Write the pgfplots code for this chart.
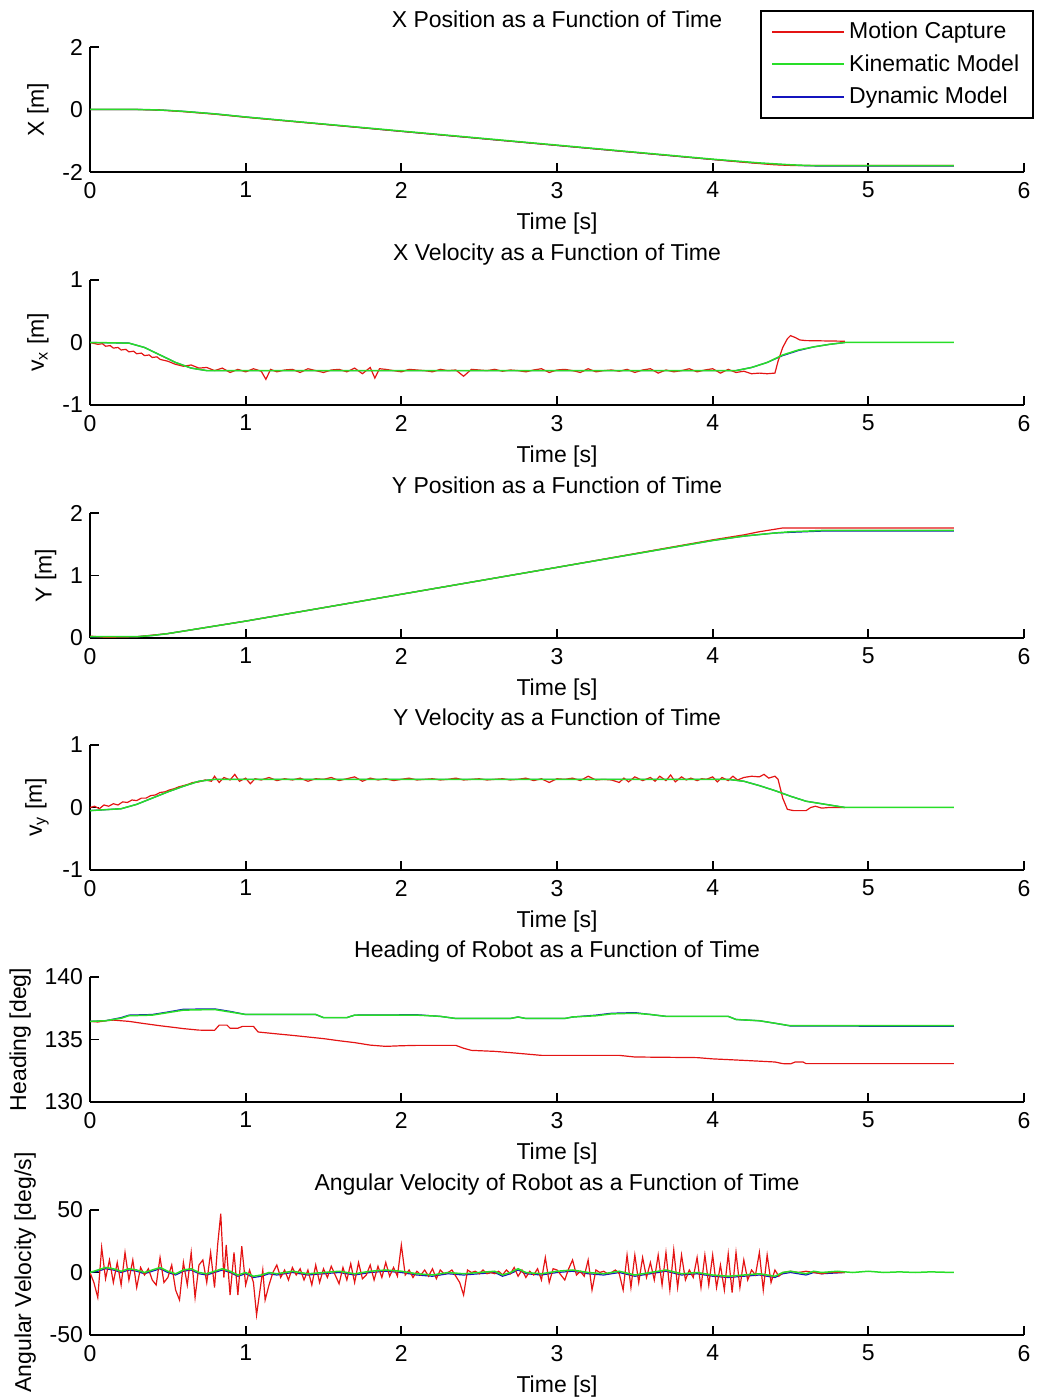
\documentclass[border=0pt]{standalone}
\usepackage{pgfplots}
\pgfplotsset{compat=1.18}
\usepackage{fontspec}
\setmainfont{Liberation Sans}
\definecolor{mred}{RGB}{228,20,20}
\definecolor{mgreen}{RGB}{40,222,40}
\definecolor{mblue}{RGB}{20,20,190}
\newcommand{\mfont}{\fontsize{11.5}{13}\selectfont}
\pgfplotsset{
 mat/.style={scale only axis, width=467pt, height=62.5pt, xmin=0, xmax=6,
   xtick={0,1,2,3,4,5,6}, xticklabels={0,1,2,3,4,5,6},
   axis x line*=bottom, axis y line*=left, axis line style={line width=0.9pt,-},
   tick align=inside, major tick length=4.7pt, tick style={line width=0.9pt, black},
   xlabel={Time [s]},
   every tick label/.append style={font=\mfont},
   xticklabel style={yshift=-1.5pt},
   xlabel style={yshift=-0.5pt},
   label style={font=\mfont},
   title style={font=\mfont, text depth=0pt},
 },
 mc/.style={mred, line width=0.6pt},
 km/.style={mgreen, line width=0.75pt},
 dm/.style={mblue, line width=0.6pt},
}
\begin{document}
\begin{tikzpicture}
\useasboundingbox (0,0) rectangle (518.5pt,700pt);
% ---------- 1: X position
\begin{axis}[mat, at={(45pt,614pt)}, anchor=south west, ymin=-2, ymax=2,
  ytick={-2,0,2}, yticklabels={-2,0,2}, ylabel={X [m]},
  title={X Position as a Function of Time},
  legend style={at={(1.0107,1.296)}, anchor=north east, draw=black, line width=0.8pt,
    font=\mfont, inner xsep=5pt, inner ysep=3.5pt, row sep=2.5pt},
  legend cell align=left,
  legend image code/.code={\draw[#1, line width=1pt] (0pt,0pt) -- (36pt,0pt);}]
\addlegendimage{mc}\addlegendentry{Motion Capture}
\addlegendimage{km}\addlegendentry{Kinematic Model}
\addlegendimage{dm}\addlegendentry{Dynamic Model}
\addplot[dm, forget plot] coordinates {(0,0) (0.3,0) (0.4,-0.01) (0.5,-0.03) (0.6,-0.06) (0.7,-0.1) (0.8,-0.14) (0.9,-0.19) (1.0,-0.24) (2.0,-0.70) (3.0,-1.15) (4.0,-1.60) (4.1,-1.64) (4.2,-1.68) (4.3,-1.72) (4.4,-1.75) (4.5,-1.78) (4.6,-1.80) (4.7,-1.81) (5.55,-1.81)};
\addplot[mc, forget plot] coordinates {(0,0) (0.3,0) (0.45,-0.02) (0.6,-0.07) (0.8,-0.15) (1.0,-0.25) (2.0,-0.70) (3.0,-1.15) (4.0,-1.60) (4.2,-1.69) (4.4,-1.77) (4.5,-1.79) (5.55,-1.79)};
\addplot[km, forget plot] coordinates {(0,0) (0.3,0) (0.4,-0.01) (0.5,-0.03) (0.6,-0.06) (0.7,-0.1) (0.8,-0.14) (0.9,-0.19) (1.0,-0.24) (2.0,-0.69) (3.0,-1.14) (4.0,-1.59) (4.1,-1.63) (4.2,-1.67) (4.3,-1.71) (4.4,-1.74) (4.5,-1.77) (4.6,-1.79) (4.7,-1.80) (5.55,-1.80)};
\end{axis}
% ---------- 2: X velocity
\begin{axis}[mat, at={(45pt,497.5pt)}, anchor=south west, ymin=-1, ymax=1,
  ytick={-1,0,1}, yticklabels={-1,0,1}, ylabel={v$_\mathrm{x}$ [m]},
  title={X Velocity as a Function of Time}]
\addplot[dm] coordinates {(0,0) (0.25,-0.01) (0.35,-0.08) (0.45,-0.2) (0.55,-0.32) (0.65,-0.41) (0.75,-0.45) (4.15,-0.45) (4.25,-0.4) (4.35,-0.32) (4.45,-0.21) (4.55,-0.13) (4.65,-0.07) (4.75,-0.03) (4.85,0)};
\addplot[mc] coordinates {(0,0) (0.05,-0.03) (0.08,-0.02) (0.1,-0.06) (0.13,-0.05) (0.15,-0.09) (0.18,-0.08) (0.2,-0.12) (0.23,-0.11) (0.25,-0.15) (0.28,-0.14) (0.3,-0.18) (0.33,-0.17) (0.35,-0.21) (0.38,-0.2) (0.4,-0.24) (0.43,-0.23) (0.45,-0.27) (0.5,-0.3) (0.55,-0.35) (0.6,-0.38) (0.65,-0.36) (0.7,-0.41) (0.75,-0.4) (0.8,-0.45) (0.85,-0.41) (0.9,-0.48) (0.95,-0.43) (1.0,-0.47) (1.05,-0.42) (1.1,-0.46) (1.13,-0.59) (1.16,-0.43) (1.2,-0.47) (1.25,-0.44) (1.3,-0.43) (1.35,-0.48) (1.4,-0.42) (1.45,-0.45) (1.5,-0.48) (1.55,-0.44) (1.6,-0.43) (1.65,-0.47) (1.7,-0.41) (1.75,-0.5) (1.8,-0.4) (1.83,-0.57) (1.86,-0.42) (1.9,-0.43) (1.95,-0.45) (2.0,-0.47) (2.05,-0.43) (2.1,-0.44) (2.15,-0.45) (2.2,-0.47) (2.25,-0.43) (2.3,-0.45) (2.35,-0.44) (2.4,-0.54) (2.45,-0.43) (2.5,-0.44) (2.55,-0.45) (2.6,-0.43) (2.65,-0.46) (2.7,-0.44) (2.75,-0.45) (2.8,-0.47) (2.85,-0.44) (2.9,-0.42) (2.95,-0.48) (3.0,-0.44) (3.05,-0.43) (3.1,-0.45) (3.15,-0.48) (3.2,-0.42) (3.25,-0.47) (3.3,-0.45) (3.35,-0.44) (3.4,-0.46) (3.45,-0.43) (3.5,-0.48) (3.55,-0.44) (3.6,-0.42) (3.65,-0.49) (3.7,-0.44) (3.75,-0.47) (3.8,-0.45) (3.85,-0.42) (3.9,-0.47) (3.95,-0.44) (4.0,-0.42) (4.05,-0.49) (4.1,-0.43) (4.15,-0.48) (4.2,-0.46) (4.25,-0.5) (4.3,-0.49) (4.35,-0.5) (4.4,-0.49) (4.42,-0.3) (4.45,-0.08) (4.48,0.06) (4.5,0.11) (4.53,0.08) (4.56,0.04) (4.6,0.03) (4.85,0.02)};
\addplot[km] coordinates {(0,0) (0.25,-0.01) (0.35,-0.08) (0.45,-0.2) (0.55,-0.32) (0.65,-0.41) (0.75,-0.45) (4.15,-0.45) (4.25,-0.4) (4.35,-0.32) (4.45,-0.2) (4.55,-0.12) (4.65,-0.07) (4.75,-0.03) (4.85,0) (5.55,0)};
\end{axis}
% ---------- 3: Y position
\begin{axis}[mat, at={(45pt,381pt)}, anchor=south west, ymin=0, ymax=2,
  ytick={0,1,2}, yticklabels={0,1,2}, ylabel={Y [m]},
  title={Y Position as a Function of Time}]
\addplot[dm] coordinates {(0,0.02) (0.3,0.02) (0.4,0.04) (0.5,0.07) (0.6,0.11) (0.7,0.15) (0.8,0.19) (0.9,0.23) (1.0,0.27) (2.0,0.70) (3.0,1.13) (4.0,1.56) (4.2,1.63) (4.4,1.68) (4.5,1.69) (4.6,1.70) (4.7,1.71) (5.55,1.71)};
\addplot[mc] coordinates {(0,0.03) (0.1,0.01) (0.3,0.02) (0.5,0.07) (0.8,0.19) (1.0,0.27) (2.0,0.70) (3.0,1.13) (4.0,1.57) (4.2,1.65) (4.3,1.70) (4.4,1.74) (4.45,1.76) (5.55,1.76)};
\addplot[km] coordinates {(0,0.02) (0.3,0.02) (0.4,0.04) (0.5,0.07) (0.6,0.11) (0.7,0.15) (0.8,0.19) (0.9,0.23) (1.0,0.27) (2.0,0.70) (3.0,1.13) (4.0,1.56) (4.2,1.63) (4.4,1.68) (4.5,1.70) (4.6,1.71) (4.7,1.72) (5.55,1.72)};
\end{axis}
% ---------- 4: Y velocity
\begin{axis}[mat, at={(45pt,265pt)}, anchor=south west, ymin=-1, ymax=1,
  ytick={-1,0,1}, yticklabels={-1,0,1}, ylabel={v$_\mathrm{y}$ [m]},
  title={Y Velocity as a Function of Time}]
\addplot[dm] coordinates {(0,-0.05) (0.2,-0.02) (0.3,0.05) (0.4,0.15) (0.5,0.25) (0.6,0.34) (0.7,0.42) (0.8,0.45) (4.1,0.45) (4.2,0.42) (4.3,0.35) (4.4,0.27) (4.5,0.18) (4.6,0.1) (4.7,0.06) (4.8,0.02) (4.85,0)};
\addplot[mc] coordinates {(0,0) (0.03,0.02) (0.06,-0.02) (0.09,0.04) (0.12,0.02) (0.15,0.06) (0.18,0.04) (0.21,0.09) (0.24,0.08) (0.27,0.12) (0.3,0.11) (0.33,0.15) (0.36,0.15) (0.39,0.19) (0.42,0.2) (0.45,0.24) (0.48,0.25) (0.51,0.28) (0.54,0.3) (0.57,0.33) (0.6,0.35) (0.63,0.37) (0.66,0.4) (0.7,0.41) (0.74,0.44) (0.78,0.42) (0.8,0.5) (0.83,0.4) (0.86,0.48) (0.9,0.44) (0.93,0.53) (0.96,0.42) (1.0,0.47) (1.03,0.38) (1.06,0.46) (1.1,0.44) (1.15,0.48) (1.2,0.43) (1.25,0.46) (1.3,0.44) (1.35,0.47) (1.4,0.42) (1.45,0.46) (1.5,0.45) (1.55,0.48) (1.6,0.43) (1.65,0.46) (1.7,0.49) (1.75,0.42) (1.8,0.47) (1.85,0.44) (1.9,0.46) (1.95,0.43) (2.0,0.45) (2.05,0.47) (2.1,0.44) (2.15,0.45) (2.2,0.46) (2.25,0.44) (2.3,0.45) (2.35,0.47) (2.4,0.44) (2.45,0.45) (2.5,0.46) (2.55,0.44) (2.6,0.45) (2.65,0.46) (2.7,0.44) (2.75,0.45) (2.8,0.47) (2.85,0.43) (2.9,0.46) (2.95,0.40) (3.0,0.46) (3.05,0.45) (3.1,0.47) (3.15,0.43) (3.2,0.50) (3.25,0.44) (3.3,0.45) (3.35,0.44) (3.4,0.40) (3.43,0.47) (3.46,0.41) (3.5,0.49) (3.55,0.43) (3.6,0.48) (3.63,0.42) (3.66,0.50) (3.7,0.43) (3.73,0.52) (3.76,0.41) (3.8,0.49) (3.83,0.44) (3.86,0.47) (3.9,0.43) (3.93,0.46) (3.96,0.45) (4.0,0.49) (4.03,0.41) (4.06,0.48) (4.1,0.43) (4.13,0.50) (4.16,0.44) (4.2,0.48) (4.25,0.50) (4.3,0.49) (4.33,0.53) (4.36,0.47) (4.4,0.50) (4.42,0.45) (4.45,0.15) (4.48,-0.03) (4.52,-0.05) (4.6,-0.05) (4.63,0.0) (4.66,0.02) (4.7,-0.01) (4.75,0) (4.85,0)};
\addplot[km] coordinates {(0,-0.05) (0.2,-0.02) (0.3,0.05) (0.4,0.15) (0.5,0.25) (0.6,0.34) (0.7,0.42) (0.8,0.45) (4.1,0.45) (4.2,0.42) (4.3,0.35) (4.4,0.27) (4.5,0.18) (4.6,0.1) (4.7,0.06) (4.8,0.02) (4.85,0) (5.55,0)};
\end{axis}
% ---------- 5: Heading
\begin{axis}[mat, at={(45pt,149pt)}, anchor=south west, ymin=130, ymax=140,
  ytick={130,135,140}, yticklabels={130,135,140}, ylabel={Heading [deg]},
  title={Heading of Robot as a Function of Time}]
\addplot[dm] coordinates {(0,136.45) (0.1,136.5) (0.2,136.75) (0.25,136.95) (0.4,137.0) (0.5,137.2) (0.6,137.42) (0.8,137.45) (0.9,137.25) (1.0,137.0) (1.45,137.0) (1.5,136.75) (1.65,136.75) (1.7,136.95) (2.1,136.98) (2.25,136.85) (2.35,136.68) (2.7,136.68) (2.75,136.8) (2.8,136.68) (3.05,136.68) (3.1,136.8) (3.25,136.95) (3.35,137.1) (3.5,137.15) (3.6,137.0) (3.7,136.85) (4.1,136.85) (4.15,136.6) (4.3,136.5) (4.4,136.3) (4.5,136.08) (5.55,136.05)};
\addplot[mc] coordinates {(0,136.45) (0.05,136.4) (0.1,136.5) (0.15,136.55) (0.25,136.45) (0.35,136.27) (0.45,136.1) (0.55,135.95) (0.6,135.87) (0.7,135.75) (0.8,135.73) (0.83,136.15) (0.88,136.15) (0.9,135.9) (0.95,135.9) (0.98,136.05) (1.05,136.05) (1.08,135.6) (1.2,135.45) (1.3,135.33) (1.5,135.07) (1.6,134.9) (1.7,134.75) (1.8,134.55) (1.9,134.45) (2.0,134.5) (2.1,134.53) (2.35,134.53) (2.4,134.3) (2.45,134.13) (2.6,134.05) (2.7,133.95) (2.9,133.73) (3.0,133.73) (3.4,133.73) (3.5,133.6) (3.9,133.55) (4.0,133.45) (4.2,133.33) (4.4,133.2) (4.45,133.07) (4.5,133.05) (4.53,133.2) (4.58,133.2) (4.6,133.07) (5.55,133.07)};
\addplot[km] coordinates {(0,136.45) (0.1,136.5) (0.2,136.7) (0.25,136.9) (0.4,136.95) (0.5,137.15) (0.6,137.35) (0.8,137.4) (0.9,137.2) (1.0,137.0) (1.45,137.0) (1.5,136.75) (1.65,136.75) (1.7,136.95) (2.1,136.95) (2.25,136.85) (2.35,136.68) (2.7,136.68) (2.75,136.8) (2.8,136.68) (3.05,136.68) (3.1,136.8) (3.25,136.9) (3.35,137.05) (3.5,137.1) (3.6,137.0) (3.7,136.85) (4.1,136.85) (4.15,136.6) (4.3,136.5) (4.4,136.3) (4.5,136.1) (5.55,136.1)};
\end{axis}
% ---------- 6: Angular velocity
\begin{axis}[mat, at={(45pt,32.5pt)}, anchor=south west, ymin=-50, ymax=50,
  ytick={-50,0,50}, yticklabels={-50,0,50}, ylabel={Angular Velocity [deg/s]},
  title={Angular Velocity of Robot as a Function of Time}]
\addplot[dm] coordinates {(0,0) (0.05,1) (0.1,3) (0.15,2) (0.2,0) (0.25,2) (0.3,1) (0.35,-1) (0.4,1) (0.45,3) (0.5,0) (0.55,-2) (0.6,1) (0.65,2) (0.7,-1) (0.75,-2) (0.8,0) (0.85,2) (0.9,0) (0.95,-3) (1.0,-1) (1.05,-4) (1.1,-3) (1.15,-1) (1.2,-2) (1.3,0) (1.4,-2) (1.5,-1) (1.6,0) (1.7,-2) (1.8,0) (1.9,1) (2.0,0) (2.1,-2) (2.2,-3) (2.3,-1) (2.4,-2) (2.5,-1) (2.6,0) (2.65,-3) (2.7,-1) (2.75,2) (2.8,-1) (2.9,-2) (3.0,0) (3.1,1) (3.2,-1) (3.3,-2) (3.4,0) (3.5,-3) (3.6,-1) (3.7,1) (3.8,-2) (3.9,-1) (4.0,-3) (4.1,-4) (4.2,-3) (4.3,-2) (4.4,-4) (4.45,-1) (4.5,0) (4.55,-1) (4.6,-2) (4.65,0) (4.7,-1) (4.85,0)};
\addplot[mc] coordinates {(0.000,0) (0.025,-8) (0.050,-20) (0.075,20) (0.100,-5) (0.125,10) (0.150,-8) (0.175,8) (0.200,-10) (0.225,16) (0.250,-6) (0.275,10) (0.300,-12) (0.325,4) (0.350,-2) (0.375,3) (0.400,-6) (0.425,-10) (0.450,12) (0.475,-8) (0.500,-4) (0.525,6) (0.550,-14) (0.575,-22) (0.600,8) (0.625,-10) (0.650,16) (0.675,-20) (0.700,6) (0.725,10) (0.750,-8) (0.775,16) (0.800,-12) (0.820,22) (0.840,47) (0.860,-4) (0.875,22) (0.900,-18) (0.925,16) (0.950,-18) (0.975,21) (1.000,-10) (1.025,2) (1.050,-8) (1.070,-34) (1.090,-16) (1.110,2) (1.125,-22) (1.150,-10) (1.175,0) (1.200,6) (1.225,-4) (1.250,2) (1.275,-6) (1.300,4) (1.325,-2) (1.350,3) (1.375,-6) (1.400,2) (1.425,-10) (1.450,6) (1.475,-8) (1.500,3) (1.525,-4) (1.550,5) (1.575,-2) (1.600,-9) (1.625,4) (1.650,-6) (1.675,7) (1.700,-8) (1.725,8) (1.750,-5) (1.775,-2) (1.800,6) (1.825,-6) (1.850,5) (1.875,-4) (1.900,8) (1.925,-3) (1.950,4) (1.975,-3) (2.000,22) (2.025,-2) (2.050,2) (2.075,-4) (2.100,1) (2.125,-2) (2.150,2) (2.175,-3) (2.200,3) (2.225,-5) (2.250,2) (2.275,-1) (2.300,0) (2.325,2) (2.350,-3) (2.375,-8) (2.400,-18) (2.425,2) (2.450,0) (2.475,1) (2.500,-1) (2.525,2) (2.550,-1) (2.575,0) (2.600,-1) (2.625,1) (2.650,-2) (2.675,2) (2.700,-1) (2.725,4) (2.750,-3) (2.775,2) (2.800,-4) (2.825,1) (2.850,-2) (2.875,3) (2.900,-6) (2.925,12) (2.950,-8) (2.975,3) (3.000,2) (3.025,-2) (3.050,-6) (3.075,3) (3.100,10) (3.125,-2) (3.150,1) (3.175,-3) (3.200,10) (3.225,-14) (3.250,2) (3.275,0) (3.300,1) (3.325,-1) (3.350,0) (3.375,2) (3.400,-1) (3.425,-14) (3.450,14) (3.475,-12) (3.500,14) (3.525,-8) (3.550,12) (3.575,-4) (3.600,8) (3.625,-6) (3.650,14) (3.675,-10) (3.700,16) (3.725,-14) (3.750,18) (3.775,-12) (3.800,14) (3.825,-6) (3.850,2) (3.875,-4) (3.900,12) (3.925,-12) (3.950,14) (3.975,-10) (4.000,14) (4.025,-12) (4.050,6) (4.075,-14) (4.100,15) (4.125,-16) (4.150,16) (4.175,-12) (4.200,10) (4.225,-6) (4.250,2) (4.275,-2) (4.300,16) (4.325,-14) (4.350,14) (4.375,-8) (4.400,2) (4.425,-3) (4.450,0) (4.5,1) (4.55,0) (4.6,1) (4.65,0) (4.7,-1) (4.75,0) (4.85,0)};
\addplot[km] coordinates {(0,0) (0.05,2) (0.1,4) (0.15,3) (0.2,1) (0.25,3) (0.3,2) (0.35,0) (0.4,2) (0.45,4) (0.5,1) (0.55,-1) (0.6,2) (0.65,3) (0.7,0) (0.75,-1) (0.8,1) (0.85,3) (0.9,1) (0.95,-2) (1.0,0) (1.05,-3) (1.1,-2) (1.15,0) (1.2,-1) (1.3,1) (1.4,-1) (1.5,0) (1.6,1) (1.7,-1) (1.8,1) (1.9,2) (2.0,1) (2.1,-1) (2.2,-2) (2.3,0) (2.4,-1) (2.5,0) (2.6,1) (2.65,-2) (2.7,0) (2.75,3) (2.8,0) (2.9,-1) (3.0,1) (3.1,2) (3.2,0) (3.3,-1) (3.4,1) (3.5,-2) (3.6,0) (3.7,2) (3.8,-1) (3.9,0) (4.0,-2) (4.1,-3) (4.2,-2) (4.3,-1) (4.4,-3) (4.45,0) (4.5,1) (4.55,0) (4.6,-1) (4.65,1) (4.7,0) (4.8,1) (4.9,0) (5.0,1) (5.1,0) (5.2,0.5) (5.3,0) (5.4,0.5) (5.55,0)};
\end{axis}
\end{tikzpicture}
\end{document}
